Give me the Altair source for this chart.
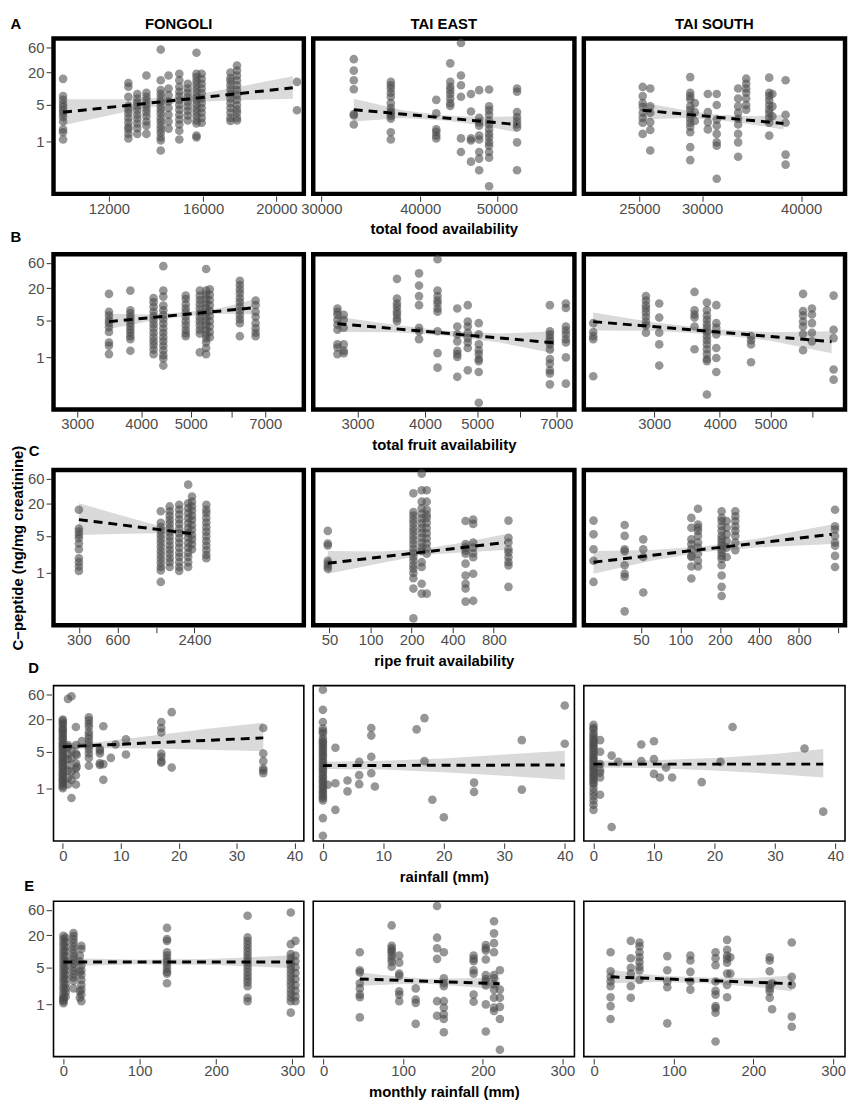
import altair as alt
import pandas as pd

# ---------------- text ----------------
SITES = ["FONGOLI", "TAI EAST", "TAI SOUTH"]
ROW_LETTERS = ["A", "B", "C", "D", "E"]
X_TITLES = ["total food availability", "total fruit availability",
            "ripe fruit availability", "rainfall (mm)", "monthly rainfall (mm)"]
Y_TITLE = "C\u2212peptide (ng/mg creatinine)"

# ---------------- scales / ticks ----------------
Y_DOMAIN = [0.104, 87]
Y_TICKS = [1, 5, 20, 60]
X_TYPES = ["log", "log", "log", "linear", "linear"]
X_DOMAINS = [
    [[10140, 21750], [29300, 62640], [21270, 45450]],
    [[2695, 8325], [2485, 7560], [2200, 6940]],
    [[190, 17160], [38, 3120], [18.3, 1800]],
    [[-1.6, 41.6], [-1.6, 41.6], [-1.6, 41.6]],
    [[-13, 315], [-13, 315], [-13, 315]],
]
X_TICKS = [
    [[12000, 16000, 20000], [30000, 40000, 50000], [25000, 30000, 40000]],
    [[3000, 4000, 5000, 6000, 7000], [3000, 4000, 5000, 6000, 7000], [3000, 4000, 5000, 6000]],
    [[300, 600, 1200, 2400], [50, 100, 200, 400, 800], [50, 100, 200, 400, 800, 1600]],
    [[0, 10, 20, 30, 40]] * 3,
    [[0, 100, 200, 300]] * 3,
]
X_UNLABELED = [6000, 1200, 1600]

# ================= ROW A : total food availability =================
A_FON_X = [10440, 12740, 13090, 13460, 14060, 14400, 14880, 15270, 15680, 15930, 17390, 17740, 21300]
A_FON_Y = [
    [15.2, 7.2, 6.1, 5.1, 4.5, 3.9, 3.4, 2.9, 2.4, 1.7, 1.5, 1.1],
    [12.7, 10.8, 7.0, 4.7, 4.0, 3.4, 2.8, 2.3, 1.9, 1.7, 1.4, 1.15],
    [7.9, 6.5, 5.45, 4.6, 3.9, 3.2, 2.7, 2.2, 1.8, 1.4],
    [17.6, 8.3, 7.0, 6.0, 5.0, 4.2, 3.6, 3.0, 2.4, 2.0, 1.4],
    [54, 14.3, 9.3, 7.9, 6.6, 5.6, 4.7, 4.0, 3.4, 2.8, 2.4, 2.0, 1.7, 1.45, 1.2, 1.05, 0.68],
    [17.6, 10, 7.5, 5.7, 4.3, 3.2, 2.4, 1.76],
    [18.9, 14.3, 10.8, 8.7, 7.2, 6.0, 4.9, 4.0, 3.2, 2.6, 2.1, 1.6, 1.1],
    [12.3, 10, 8.3, 6.8, 5.6, 4.6, 3.8, 3.1, 2.5],
    [47, 18.9, 16.4, 13.8, 11.7, 9.9, 8.3, 7.0, 6.0, 5.0, 4.2, 3.6, 3.0, 2.5, 2.2, 1.3, 1.2],
    [18.9, 15.2, 12.3, 10, 8.1, 6.5, 5.3, 4.3, 3.5, 2.8, 2.27],
    [20, 15.8, 13.8, 11.5, 9.6, 7.9, 6.5, 5.3, 4.3, 3.5, 2.8, 2.45],
    [27, 21.7, 17.6, 14.3, 11.5, 9.3, 7.5, 6.1, 4.9, 4.0, 3.5, 2.8, 2.5],
    [13.3, 3.9],
]
A_FON_LINE_X = [10440, 21030]
A_FON_LINE_Y = [3.57, 10.3]
A_FON_BAND_X = [10440, 12740, 14900, 17740, 21030]
A_FON_BAND_LO = [2.03, 3.73, 5.45, 6.0, 6.4]
A_FON_BAND_HI = [6.3, 6.25, 6.87, 10.6, 17.0]

A_TE_X = [32970, 36720, 41910, 43650, 45030, 46360, 47480, 48870, 53010]
A_TE_Y = [
    [35.6, 21.7, 14.3, 9.7, 3.3, 3.1, 2.1],
    [13.3, 11.5, 10.0, 8.3, 7.0, 5.3, 4.3, 3.7, 3.4, 3.0, 2.7, 1.5, 1.1],
    [6.1, 3.4, 1.7, 1.53, 1.3, 1.15],
    [29.7, 13.3, 10.8, 9.3, 7.9, 6.5, 5.3, 4.7],
    [72, 17.6, 11.5, 7.0, 1.15, 0.64],
    [7.9, 3.7, 1.15, 1.05, 0.42],
    [9.3, 2.8, 2.3, 2.0, 1.3, 1.1, 0.64, 0.48, 0.29],
    [9.6, 4.6, 3.9, 3.2, 2.5, 2.1, 1.7, 1.4, 1.2, 0.97, 0.84, 0.64, 0.5, 0.145],
    [10.0, 8.7, 3.6, 2.9, 2.45, 2.1, 1.85, 0.97, 0.29],
]
A_TE_LINE_X = [32970, 53010]
A_TE_LINE_Y = [4.0, 2.1]
A_TE_BAND_X = [32970, 38000, 43000, 48000, 53010]
A_TE_BAND_LO = [2.4, 2.8, 2.5, 2.0, 1.5]
A_TE_BAND_HI = [6.4, 3.9, 3.1, 2.9, 3.0]

A_TS_X = [25240, 25800, 28980, 29370, 30500, 31300, 33310, 34100, 36460, 36800, 38240]
A_TS_Y = [
    [10.7, 7.2, 5.3, 4.5, 3.5, 2.8, 2.27, 1.4],
    [10.0, 4.6, 3.5, 2.33, 1.66, 0.68],
    [16.4, 8.3, 7.2, 6.3, 4.6, 3.9, 3.2, 2.7, 2.27, 1.9, 1.5, 0.79, 0.45],
    [5.3, 3.6, 2.45],
    [7.9, 3.6, 2.33, 1.7],
    [7.9, 4.9, 2.6, 2.0, 1.4, 0.97, 0.84, 0.2],
    [10.0, 6.5, 4.6, 3.5, 2.7, 2.1, 1.4, 0.97, 0.52],
    [15.3, 12.3, 10.0, 8.3, 6.5, 4.9, 4.0],
    [16.0, 8.3, 7.2, 6.0, 4.9, 4.0, 3.4, 2.8, 2.27, 1.3],
    [7.9, 4.6, 3.0],
    [14.3, 3.2, 2.27, 0.57, 0.37],
]
A_TS_LINE_X = [25240, 38000]
A_TS_LINE_Y = [3.9, 2.2]
A_TS_BAND_X = [25240, 28500, 31500, 35000, 38000]
A_TS_BAND_LO = [2.6, 2.8, 2.55, 2.05, 1.7]
A_TS_BAND_HI = [5.45, 3.9, 3.2, 3.0, 3.2]

# ================= ROW B : total fruit availability =================
B_FON_X = [3460, 3810, 4230, 4420, 4890, 5210, 5360, 5450, 6240, 6700]
B_FON_Y = [
    [15.6, 7.2, 6.1, 5.1, 4.4, 3.7, 3.0, 1.9, 1.65, 1.15],
    [18, 7.7, 6.7, 5.8, 5.1, 4.4, 3.8, 3.3, 2.9, 2.5, 2.2, 1.33],
    [13, 10.9, 8.9, 7.2, 6.0, 5.0, 4.2, 3.5, 2.9, 2.4, 2.0, 1.7, 1.4, 1.15],
    [52, 18, 13.9, 9.4, 7.7, 6.3, 5.2, 4.3, 3.5, 2.9, 2.4, 2.0, 1.65, 1.35, 1.1, 0.95, 0.7],
    [14.5, 12.5, 10, 8.3, 7, 5.8, 4.8, 4.0, 3.3, 2.8, 2.5],
    [18, 14.5, 12, 10, 8.3, 6.9, 5.7, 4.8, 4.0, 3.3, 2.8, 1.24],
    [46, 18, 15, 12.3, 10.2, 8.5, 7, 5.8, 4.8, 4.0, 3.3, 2.7, 2.3, 1.9, 1.5, 1.15],
    [19, 15, 12, 9.5, 7.5, 6, 4.8, 3.8, 3.0, 2.4],
    [27.5, 23, 19, 16, 13, 11, 9, 7.5, 6.2, 5.2, 4.4, 2.5],
    [11.7, 9.6, 7.2, 5.8, 4.4, 3.5, 2.9, 2.5],
]
B_FON_LINE_X = [3460, 6600]
B_FON_LINE_Y = [4.7, 8.5]
B_FON_BAND_X = [3460, 4200, 4900, 5700, 6600]
B_FON_BAND_LO = [3.4, 4.9, 5.9, 6.6, 6.5]
B_FON_BAND_HI = [6.6, 6.4, 7.1, 8.4, 12.0]

B_TE_X = [2755, 2830, 3550, 3900, 4220, 4590, 4800, 5030, 6810, 7290]
B_TE_Y = [
    [8.3, 7.2, 6.3, 5.1, 4.1, 3.3, 1.75, 1.53, 1.15],
    [6.3, 5.1, 3.6, 1.75, 1.33, 1.2],
    [30, 12.7, 10.3, 8.9, 7.4, 6.5, 5.4, 4.8],
    [38, 22.4, 14.2, 9.6, 3.6, 3.1, 2.2],
    [70, 18, 14.2, 11.7, 10.3, 8.3, 7.2, 3.1, 1.2, 0.64],
    [8.3, 3.8, 2.7, 2.0, 1.33, 1.15, 1.02, 0.43],
    [9.6, 4.7, 3.8, 2.9, 2.3, 1.9, 1.5, 0.57],
    [4.4, 2.7, 1.75, 1.36, 1.15, 0.93, 0.85, 0.53, 0.14],
    [9.6, 3.1, 2.7, 2.3, 2.0, 1.75, 1.4, 0.93, 0.76, 0.57, 0.5, 0.31],
    [10.3, 8.5, 3.8, 3.2, 2.7, 2.2, 1.9, 1.0, 0.32],
]
B_TE_LINE_X = [2755, 6920]
B_TE_LINE_Y = [4.3, 1.88]
B_TE_BAND_X = [2755, 3500, 4300, 5500, 6920]
B_TE_BAND_LO = [3.0, 2.95, 2.6, 1.9, 1.2]
B_TE_BAND_HI = [5.8, 4.1, 3.2, 2.8, 3.1]

B_TS_X = [2293, 2891, 3065, 3580, 3780, 3940, 4590, 5770, 6000, 6600]
B_TS_Y = [
    [4.4, 3.0, 2.5, 2.2, 0.44],
    [14.2, 11.7, 9.6, 8.3, 7.0, 5.8, 4.7, 4.0, 2.9],
    [10.3, 5.6, 2.9, 1.75, 0.7],
    [17, 7.7, 6.4, 5.6, 3.8, 1.42],
    [10.7, 7.7, 6.1, 5.1, 4.2, 3.6, 3.0, 2.5, 2.1, 1.75, 1.42, 1.15, 0.93, 0.85, 0.2],
    [9.6, 4.4, 3.6, 2.7, 1.5, 0.97, 0.53],
    [2.5, 2.1, 1.75, 0.81],
    [15.6, 7.4, 6.1, 4.7, 3.8, 2.75, 1.36],
    [8.3, 6.4, 4.4, 2.9, 2.0],
    [14.5, 3.3, 2.3, 0.59, 0.38],
]
B_TS_LINE_X = [2293, 6540]
B_TS_LINE_Y = [4.7, 1.97]
B_TS_BAND_X = [2293, 3000, 3900, 5000, 6540]
B_TS_BAND_LO = [3.2, 3.15, 2.7, 2.05, 1.2]
B_TS_BAND_HI = [7.0, 4.5, 3.4, 2.95, 3.1]

# ================= ROW C : ripe fruit availability =================
C_FON_X = [300, 1309, 1536, 1823, 2142, 2295, 2970]
C_FON_Y = [
    [15.5, 6.9, 6.0, 5.2, 4.5, 3.6, 2.8, 1.9, 1.6, 1.33, 1.1],
    [14.5, 8.8, 7.3, 6.2, 5.2, 4.4, 3.7, 3.1, 2.6, 2.2, 1.85, 1.55, 1.3, 1.12, 0.68],
    [17.9, 14.5, 12, 10, 8.4, 7, 5.8, 4.8, 4.0, 3.3, 2.75, 2.3, 1.9, 1.6, 1.3],
    [19.3, 15.6, 12.7, 10.3, 8.4, 6.8, 5.6, 4.5, 3.7, 3.0, 2.4, 2.0, 1.6, 1.3, 1.1],
    [46, 20.6, 16.6, 13.4, 10.8, 8.7, 7, 5.7, 4.6, 3.7, 3.0, 2.4, 2.0, 1.6, 1.3],
    [27.5, 22, 18, 15, 12, 10, 8, 6.5, 5.2, 4.3, 3.5, 2.8],
    [19.3, 15.5, 13.5, 10.9, 8.9, 7.3, 6, 4.9, 4.0, 3.3, 2.7, 2.2, 1.9],
]
C_FON_LINE_X = [300, 2295]
C_FON_LINE_Y = [10.1, 5.5]
C_FON_BAND_X = [300, 700, 1300, 1800, 2295]
C_FON_BAND_LO = [5.2, 5.5, 5.6, 5.3, 4.7]
C_FON_BAND_HI = [20.6, 11.5, 7.6, 6.6, 6.4]

C_TE_X = [48.6, 206, 237, 258, 497, 565, 1025]
C_TE_Y = [
    [6.2, 3.6, 3.3, 1.7, 1.5, 1.33, 1.2],
    [31.6, 14, 12, 10, 8.5, 7, 6, 5, 4.2, 3.5, 2.9, 2.4, 2.0, 1.7, 1.4, 1.2, 1.0, 0.8, 0.51, 0.14],
    [74, 36, 22, 16.6, 13, 10.6, 8.6, 7, 5.7, 4.6, 3.7, 3.0, 2.6, 1.6, 1.3, 0.63, 0.41],
    [36, 22, 15.5, 12.6, 10.9, 8.8, 7, 5.6, 4.5, 3.6, 2.9, 2.3, 0.41],
    [9.5, 3.5, 3.0, 2.6, 2.3, 1.5, 0.9, 0.63, 0.51, 0.29],
    [10.1, 8.4, 3.75, 3.0, 2.35, 1.98, 0.97, 0.3],
    [9.7, 4.6, 3.75, 2.8, 2.45, 1.98, 1.6, 1.39, 0.55],
]
C_TE_LINE_X = [48.6, 970]
C_TE_LINE_Y = [1.53, 3.75]
C_TE_BAND_X = [48.6, 120, 250, 500, 970]
C_TE_BAND_LO = [0.97, 1.55, 2.2, 2.45, 2.7]
C_TE_BAND_HI = [2.6, 2.55, 2.85, 3.85, 5.35]

C_TS_X = [21.7, 37.5, 52, 121, 136, 206, 225, 262, 1510]
C_TS_Y = [
    [9.7, 5.35, 2.8, 1.7, 0.68],
    [8.0, 5.0, 2.8, 2.55, 1.4, 0.97, 0.85, 0.19],
    [4.3, 2.8, 2.0, 0.43],
    [10.9, 7.1, 4.3, 3.5, 2.8, 2.1, 2.0, 1.33, 0.79],
    [16.2, 8.2, 7.1, 6.2, 5.0, 3.75, 3.0, 2.3, 1.7, 1.33],
    [14.5, 10.9, 9.5, 7.6, 6.2, 5.0, 4.3, 3.75, 3.25, 2.8, 2.45, 2.1, 1.85, 1.4, 0.9, 0.55, 0.37],
    [9.5, 7.1, 5.35, 4.0, 3.0, 2.0],
    [14.5, 11.7, 9.5, 7.6, 6.2, 5.0, 3.75, 2.7],
    [15.5, 7.6, 6.6, 5.0, 3.75, 3.25, 2.1, 1.3],
]
C_TS_LINE_X = [21.7, 1426]
C_TS_LINE_Y = [1.6, 5.35]
C_TS_BAND_X = [21.7, 60, 150, 400, 1426]
C_TS_BAND_LO = [0.97, 1.7, 2.5, 3.05, 3.5]
C_TS_BAND_HI = [2.6, 2.7, 3.15, 4.5, 8.2]

# ================= ROW D : rainfall (mm) =================
D_FON_X = [0, 0.9, 1.5, 2.26, 2.4, 3.3, 4.5, 6.4, 7.0, 8.3, 9.1, 10.9, 17.0, 18.8, 34.6]
D_FON_Y = [
    [20, 17, 14, 12, 10, 8.5, 7, 6, 5, 4.2, 3.5, 3.0, 2.5, 2.1, 1.8, 1.5, 1.3, 1.1, 1.02,
     19, 16, 13, 11, 9, 7.5, 6.5, 5.5, 4.6, 3.8, 3.2, 2.7, 2.3, 1.9, 1.6, 1.4, 1.2],
    [49, 6.6, 6.1, 4.5, 3.6, 2.8, 2.2, 1.6, 1.2],
    [55, 5.2, 3.7, 2.1, 1.47, 0.67],
    [14.5, 6.6, 4.6, 3.0, 2.4, 1.8, 1.2],
    [4.3, 2.6],
    [7.9],
    [22, 19.3, 16.7, 14.5, 11.7, 10.1, 8.8, 7.4, 6.4, 5.5, 4.6, 3.8, 2.7],
    [5.6, 5.2, 4.6, 3.0, 2.8],
    [15, 2.9, 1.47],
    [3.8],
    [6.8],
    [8.5, 4.4],
    [18, 13.9, 11.4, 4.6, 4.0, 3.3, 3.1],
    [27.6, 2.5],
    [13.9, 4.6, 3.3, 2.4, 2.2, 1.95],
]
D_FON_LINE_X = [0, 34.6]
D_FON_LINE_Y = [6.15, 9.05]
D_FON_BAND_X = [0, 5, 15, 25, 34.6]
D_FON_BAND_LO = [5.4, 5.8, 5.7, 5.4, 5.1]
D_FON_BAND_HI = [7.0, 7.3, 9.8, 13.5, 17.5]

D_TE_X = [0, 0.8, 2.07, 4.07, 6.0, 8.0, 8.6, 15.5, 16.8, 18.1, 20.0, 25.0, 32.9, 40]
D_TE_Y = [
    [73, 30.5, 18, 13.5, 11, 9, 7.5, 6.2, 5.1, 4.2, 3.4, 2.8, 2.3, 1.9, 1.55, 1.3, 1.05, 0.87,
     0.72, 0.6, 0.28, 0.13, 12, 8, 6.8, 5.6, 4.6, 3.8, 3.1, 2.5, 2.1, 1.7, 1.4, 1.15, 0.95,
     0.8, 0.66],
    [1.19],
    [5.9, 1.27, 0.4],
    [1.43, 0.89],
    [3.2, 1.8, 1.22],
    [13.9, 10, 4.0, 1.95],
    [1.1],
    [13.1],
    [21.3, 3.3],
    [0.62],
    [0.29],
    [1.3, 0.87],
    [8.2, 0.96],
    [36.7, 7.0],
]
D_TE_LINE_X = [0, 40]
D_TE_LINE_Y = [2.72, 2.8]
D_TE_BAND_X = [0, 10, 20, 30, 40]
D_TE_BAND_LO = [2.35, 2.3, 2.05, 1.75, 1.47]
D_TE_BAND_HI = [3.2, 3.35, 3.7, 4.4, 5.2]

D_TS_X = [0, 1.09, 3.0, 4.1, 7.9, 10.0, 11, 12, 13, 17.9, 21, 23.0, 34.9, 38]
D_TS_Y = [
    [16, 13, 11, 9, 7.5, 6.3, 5.2, 4.3, 3.6, 3.0, 2.5, 2.1, 1.75, 1.45, 1.2, 1.0, 0.85, 0.72,
     0.6, 0.5, 0.4, 14, 10, 8.2, 6.8, 5.7, 4.7, 3.9, 3.3, 2.7, 2.3, 1.9, 1.6, 1.3],
    [8.2, 4.95, 2.9, 2.25, 2.0, 1.63, 0.77],
    [4.2, 0.19],
    [3.2],
    [6.8, 3.3],
    [7.8, 3.6, 1.9],
    [1.63],
    [2.5],
    [1.63],
    [1.33],
    [3.2],
    [14.5],
    [5.7],
    [0.37],
]
D_TS_LINE_X = [0, 38]
D_TS_LINE_Y = [2.9, 2.9]
D_TS_BAND_X = [0, 10, 20, 30, 38]
D_TS_BAND_LO = [2.5, 2.45, 2.2, 1.9, 1.63]
D_TS_BAND_HI = [3.35, 3.45, 3.8, 4.5, 5.6]

# ================= ROW E : monthly rainfall (mm) =================
E_FON_X = [0, 2.9, 13.2, 21.5, 23.5, 135.7, 241.3, 297.9, 304]
E_FON_Y = [
    [19.5, 17, 14.5, 12.5, 10.5, 9, 7.7, 6.6, 5.6, 4.8, 4.1, 3.5, 3.0, 2.6, 2.2, 1.9, 1.6,
     1.35, 1.2, 1.05, 1.33, 1.15],
    [18, 15, 12, 10, 8, 6.5, 5.2, 4.4, 3.6, 3.0, 2.4, 2.0, 1.7, 1.4],
    [22, 19.4, 16.7, 14.4, 12.4, 10.7, 9.2, 7.9, 6.8, 5.8, 5.0, 4.3, 3.7, 3.2, 2.8, 2.0],
    [8.3, 6.5, 4.1, 1.76, 1.33],
    [12.7, 11, 5.45, 4.4, 3.6, 2.9, 2.33, 1.9, 1.53, 1.15],
    [27.5, 16.9, 15.6, 9.6, 8.3, 7.2, 6.3, 5.45, 4.7, 4.1, 3.8, 2.5],
    [46.5, 18.2, 15.6, 13.4, 11.5, 9.9, 8.5, 7.3, 6.3, 5.45, 4.7, 4.0, 3.45, 3.0, 2.6, 2.2,
     1.33, 1.15],
    [53.6, 13.6, 8.9, 7.5, 6.3, 5.3, 4.5, 3.8, 3.2, 2.7, 2.3, 1.9, 1.6, 1.35, 1.15, 0.7],
    [15.7, 8.3, 6.5, 5.0, 3.9, 3.0, 2.3, 1.8, 1.4, 1.15],
]
E_FON_LINE_X = [0, 300]
E_FON_LINE_Y = [6.3, 6.3]
E_FON_BAND_X = [0, 100, 200, 300]
E_FON_BAND_LO = [5.2, 5.7, 5.5, 4.8]
E_FON_BAND_HI = [7.5, 6.9, 7.2, 8.4]

E_TE_X = [45.5, 85.5, 95, 115.7, 142.5, 151, 188.4, 203.7, 214, 221.4]
E_TE_Y = [
    [9.6, 4.4, 4.0, 2.5, 2.0, 1.53, 1.36, 0.57],
    [30.6, 12.7, 11.4, 10.3, 9.6, 8.3, 7.2, 6.3, 5.1],
    [8.3, 6.1, 3.8, 3.45, 1.76, 1.53, 1.15],
    [2.0, 1.24, 1.07, 0.43],
    [71, 18, 11.4, 7.2, 1.15, 0.61],
    [9.6, 3.1, 2.5, 2.2, 1.15, 0.87, 0.65, 0.53, 0.3],
    [8.3, 7.2, 6.5, 4.4, 3.8, 1.53, 1.12],
    [13.1, 11.4, 10.3, 7.0, 3.55, 3.0, 2.7, 2.27, 1.0, 0.31],
    [36.7, 21.7, 14.2, 9.6, 3.55, 3.1, 2.4, 1.9, 1.33, 0.87, 0.75],
    [4.4, 1.9, 1.33, 0.9, 0.53, 0.14],
]
E_TE_LINE_X = [45.5, 221]
E_TE_LINE_Y = [3.0, 2.45]
E_TE_BAND_X = [45.5, 90, 130, 180, 221]
E_TE_BAND_LO = [2.25, 2.4, 2.45, 2.15, 1.95]
E_TE_BAND_HI = [4.0, 3.4, 3.05, 3.1, 3.2]

E_TS_X = [20.6, 46, 56.9, 91.8, 120.8, 152.4, 166.9, 171, 220.4, 223.4, 248.1]
E_TS_Y = [
    [9.6, 4.2, 3.3, 2.7, 2.2, 1.36, 0.93, 0.53],
    [15.7, 7.4, 4.9, 3.8, 2.2, 1.33],
    [14.6, 12.4, 9.6, 7.7, 6.3, 5.1, 4.4, 2.9],
    [8.1, 4.4, 2.7, 2.1, 0.44],
    [8.3, 6.7, 4.1, 2.7, 1.9],
    [9.6, 7.4, 5.45, 2.7, 1.8, 1.53, 0.93, 0.85, 0.7, 0.2],
    [16.4, 10.7, 8.3, 7.2, 6.1, 3.8, 2.33, 1.36],
    [7.7, 3.8],
    [7.7, 6.7, 4.2, 2.33, 2.0, 1.76, 1.33],
    [2.5, 0.81],
    [14.6, 3.3, 2.33, 0.59, 0.38],
]
E_TS_LINE_X = [20.6, 248]
E_TS_LINE_Y = [3.3, 2.45]
E_TS_BAND_X = [20.6, 80, 140, 200, 248]
E_TS_BAND_LO = [2.5, 2.65, 2.5, 2.15, 1.76]
E_TS_BAND_HI = [4.5, 3.5, 3.2, 3.15, 3.5]

PANEL_DATA = [
    [(A_FON_X, A_FON_Y, A_FON_LINE_X, A_FON_LINE_Y, A_FON_BAND_X, A_FON_BAND_LO, A_FON_BAND_HI),
     (A_TE_X, A_TE_Y, A_TE_LINE_X, A_TE_LINE_Y, A_TE_BAND_X, A_TE_BAND_LO, A_TE_BAND_HI),
     (A_TS_X, A_TS_Y, A_TS_LINE_X, A_TS_LINE_Y, A_TS_BAND_X, A_TS_BAND_LO, A_TS_BAND_HI)],
    [(B_FON_X, B_FON_Y, B_FON_LINE_X, B_FON_LINE_Y, B_FON_BAND_X, B_FON_BAND_LO, B_FON_BAND_HI),
     (B_TE_X, B_TE_Y, B_TE_LINE_X, B_TE_LINE_Y, B_TE_BAND_X, B_TE_BAND_LO, B_TE_BAND_HI),
     (B_TS_X, B_TS_Y, B_TS_LINE_X, B_TS_LINE_Y, B_TS_BAND_X, B_TS_BAND_LO, B_TS_BAND_HI)],
    [(C_FON_X, C_FON_Y, C_FON_LINE_X, C_FON_LINE_Y, C_FON_BAND_X, C_FON_BAND_LO, C_FON_BAND_HI),
     (C_TE_X, C_TE_Y, C_TE_LINE_X, C_TE_LINE_Y, C_TE_BAND_X, C_TE_BAND_LO, C_TE_BAND_HI),
     (C_TS_X, C_TS_Y, C_TS_LINE_X, C_TS_LINE_Y, C_TS_BAND_X, C_TS_BAND_LO, C_TS_BAND_HI)],
    [(D_FON_X, D_FON_Y, D_FON_LINE_X, D_FON_LINE_Y, D_FON_BAND_X, D_FON_BAND_LO, D_FON_BAND_HI),
     (D_TE_X, D_TE_Y, D_TE_LINE_X, D_TE_LINE_Y, D_TE_BAND_X, D_TE_BAND_LO, D_TE_BAND_HI),
     (D_TS_X, D_TS_Y, D_TS_LINE_X, D_TS_LINE_Y, D_TS_BAND_X, D_TS_BAND_LO, D_TS_BAND_HI)],
    [(E_FON_X, E_FON_Y, E_FON_LINE_X, E_FON_LINE_Y, E_FON_BAND_X, E_FON_BAND_LO, E_FON_BAND_HI),
     (E_TE_X, E_TE_Y, E_TE_LINE_X, E_TE_LINE_Y, E_TE_BAND_X, E_TE_BAND_LO, E_TE_BAND_HI),
     (E_TS_X, E_TS_Y, E_TS_LINE_X, E_TS_LINE_Y, E_TS_BAND_X, E_TS_BAND_LO, E_TS_BAND_HI)],
]

# ---------------- layout / style ----------------
PANEL_W = [253, 264, 264]
PANEL_H = 157
BORDER_W = [4.5, 4.5, 4.5, 1.6, 1.6]
LETTER_POS = [(-38, -10), (-38, -12), (-19.5, -14), (-20, -12.5), (-24.5, -10)]
FONT = "Liberation Sans"

LABEL_EXPR = "(" + " || ".join("datum.value == %d" % v for v in X_UNLABELED) + ") ? '' : datum.label"


def text_layer(txt, x, y):
    return alt.Chart(pd.DataFrame({"t": [txt]})).mark_text(
        fontSize=15, fontWeight="bold", align="center", baseline="alphabetic",
        color="black", font=FONT
    ).encode(text="t:N", x=alt.value(x), y=alt.value(y))


def make_panel(r, c):
    xs, ys, lx, ly, bx, blo, bhi = PANEL_DATA[r][c]
    pts = pd.DataFrame([{"x": x, "y": y} for x, col in zip(xs, ys) for y in col])
    band = pd.DataFrame({"x": bx, "lo": blo, "hi": bhi})
    line = pd.DataFrame({"x": lx, "y": ly})

    xscale = alt.Scale(type=X_TYPES[r], domain=X_DOMAINS[r][c], nice=False, zero=False)
    yscale = alt.Scale(type="log", domain=Y_DOMAIN, nice=False)

    xaxis = alt.Axis(
        values=X_TICKS[r][c], format="d", labelExpr=LABEL_EXPR,
        title=X_TITLES[r] if c == 1 else None,
        grid=False, domain=False, offset=2, tickSize=5.5, tickWidth=1,
        tickColor="#333333", labelColor="#4d4d4d", labelFontSize=15, labelFont=FONT,
        labelPadding=0, labelFlush=False, labelOverlap=False,
        titleFontSize=15, titleFontWeight="bold", titleColor="black", titleFont=FONT,
        titlePadding=6,
    )
    if c == 0:
        yaxis = alt.Axis(
            values=Y_TICKS, format="d",
            title=Y_TITLE if r == 2 else None,
            grid=False, domain=False, offset=2, tickSize=5.5, tickWidth=1,
            tickColor="#333333", labelColor="#4d4d4d", labelFontSize=15, labelFont=FONT,
            labelPadding=2, labelOverlap=False,
            titleFontSize=15, titleFontWeight="bold", titleColor="black", titleFont=FONT,
            titlePadding=2,
        )
    else:
        yaxis = None

    xenc = alt.X("x:Q", scale=xscale, axis=xaxis)

    band_l = alt.Chart(band).mark_area(color="#dadada", opacity=1).encode(
        x=xenc, y=alt.Y("lo:Q", scale=yscale, axis=yaxis), y2="hi:Q")
    pts_l = alt.Chart(pts).mark_circle(color="#4a4a4a", opacity=0.58, size=76).encode(
        x=xenc, y=alt.Y("y:Q", scale=yscale, axis=yaxis))
    line_l = alt.Chart(line).mark_line(color="black", strokeWidth=3, strokeDash=[9, 6]).encode(
        x=xenc, y=alt.Y("y:Q", scale=yscale, axis=yaxis))

    layers = [band_l, pts_l, line_l]
    if r == 0:
        layers.append(text_layer(SITES[c], PANEL_W[c] / 2, -10))
    if c == 0:
        lxp, lyp = LETTER_POS[r]
        layers.append(text_layer(ROW_LETTERS[r], lxp, lyp))

    return alt.layer(*layers).properties(
        width=PANEL_W[c], height=PANEL_H,
        view=alt.ViewBackground(stroke="black", strokeWidth=BORDER_W[r], fill="white"),
    )


panels = [make_panel(r, c) for r in range(5) for c in range(3)]

chart = alt.concat(
    *panels, columns=3, bounds="flush", spacing={"row": 61, "column": 9.5}
).properties(padding=0, background="white").configure(font=FONT)

chart.save("out.html", embed_options={"renderer": "svg", "actions": False})
